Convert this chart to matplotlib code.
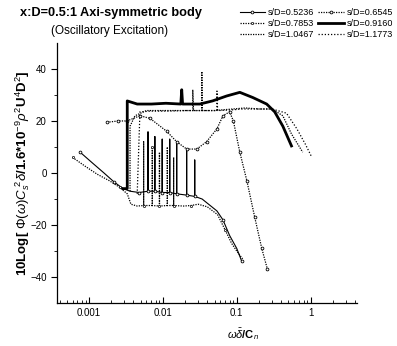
import numpy as np
import matplotlib
matplotlib.use("Agg")
import matplotlib.pyplot as plt
from matplotlib.ticker import FixedLocator, LogLocator, NullFormatter, FuncFormatter

plt.rcParams['font.family'] = ['Liberation Sans', 'DejaVu Sans']
plt.rcParams['mathtext.fontset'] = 'custom'
plt.rcParams['mathtext.rm'] = 'Liberation Sans'
plt.rcParams['mathtext.it'] = 'Liberation Sans:italic'
plt.rcParams['mathtext.bf'] = 'Liberation Sans:bold'

labels = ["s/D=0.5236", "s/D=0.6545", "s/D=0.7853", "s/D=0.9160", "s/D=1.0467", "s/D=1.1773"]

# s/D=0.5236 : low branch with harmonic spikes
x1 = [0.00076, 0.0011, 0.0016, 0.0022, 0.0029, 0.0036, 0.0048, 0.0063, 0.0063, 0.0063,
      0.0078, 0.0078, 0.0078, 0.0098, 0.0098, 0.0098, 0.0124, 0.0124, 0.0124, 0.0154,
      0.0154, 0.0154, 0.021, 0.021, 0.021, 0.027, 0.027, 0.027, 0.034, 0.054, 0.065,
      0.08, 0.1, 0.117]
y1 = [8, 4, 0, -3.5, -6, -7, -7.5, -7, 15.8, -7,
      -7, 14, -7, -7.5, 13, -7.5, -7.5, 13, -7.5, -8,
      12, -8, -8.5, 9, -8.5, -9, 5, -9, -10, -14.6, -18,
      -24, -29, -34]

# s/D=0.6545
x2 = [0.00175, 0.0025, 0.00327, 0.0049, 0.0067, 0.0113, 0.0154, 0.021, 0.0288, 0.039,
      0.054, 0.065, 0.08, 0.09, 0.11, 0.137, 0.175, 0.218, 0.26]
y2 = [19.5, 20, 20, 22, 21, 16, 12, 9.2, 9.2, 12,
      17, 22, 23.5, 20, 8, -3, -17, -29, -37]

# s/D=0.7853
x3 = [0.0006, 0.0009, 0.0013, 0.0019, 0.0026, 0.0033, 0.0037, 0.0045, 0.0055, 0.0055,
      0.0055, 0.0072, 0.0072, 0.0072, 0.009, 0.009, 0.009, 0.0115, 0.0115, 0.0115,
      0.014, 0.014, 0.014, 0.019, 0.024, 0.03, 0.04, 0.055, 0.07, 0.085, 0.1, 0.12]
y3 = [6, 2.5, -0.5, -3, -5.5, -8, -12, -12.7, -12.5, 12,
      -12.5, -12.5, 10, -12.5, -12.7, 8, -12.7, -12.5, 10, -12.5,
      -12.5, 6, -12.5, -12.7, -12.5, -12, -13, -16, -22, -27, -30, -33]

# s/D=0.9160 : upper plateau with bump
x4 = [0.0029, 0.0033, 0.0033, 0.0045, 0.007, 0.011, 0.0175, 0.018, 0.0185, 0.025,
      0.0316, 0.047, 0.073, 0.11, 0.165, 0.254, 0.326, 0.42, 0.55]
y4 = [-6, -6, 27.7, 26.5, 26.5, 26.8, 26.5, 32, 26.5, 26.5,
      26.5, 27.7, 29.6, 31, 29, 26.5, 23.5, 18, 10.4]

# s/D=1.0467
x5 = [0.0036, 0.0036, 0.0042, 0.006, 0.01, 0.015, 0.0254, 0.0254, 0.026, 0.0337,
      0.0337, 0.034, 0.05, 0.08, 0.13, 0.2, 0.3, 0.42, 0.55, 0.78]
y5 = [-7, 18, 22, 24, 24, 24, 24, 32, 24, 24,
      39, 24, 24, 24.5, 25, 24.6, 24.6, 22, 15, 8]

# s/D=1.1773
x6 = [0.0045, 0.0049, 0.007, 0.012, 0.02, 0.035, 0.054, 0.054, 0.055, 0.08,
      0.12, 0.2, 0.3, 0.47, 0.65, 0.85, 1.03]
y6 = [-8, 23.5, 23.8, 23.8, 24, 24, 24, 31.5, 24, 24.2,
      24.6, 24.6, 24.6, 23, 17, 11, 6.2]

xticks = [0.001, 0.01, 0.1, 1]
xtick_labels = ["0.001", "0.01", "0.1", "1"]
yticks = [-40, -20, 0, 20, 40]

fig = plt.figure(figsize=(3.97, 3.46), dpi=100)
ax = fig.add_axes([0.1436, 0.124, 0.755, 0.752])

dot = (0, (1, 1))
lines = []
lines.append(ax.plot(x1, y1, color="black", lw=0.8, ls="-", marker="o", ms=2,
                     mfc="white", mew=0.6, markevery=3, label=labels[0])[0])
lines.append(ax.plot(x2, y2, color="black", lw=0.9, ls=dot, marker="o", ms=2,
                     mfc="white", mew=0.6, label=labels[1])[0])
lines.append(ax.plot(x3, y3, color="black", lw=0.9, ls=dot, marker="o", ms=1.6,
                     mfc="white", mew=0.5, markevery=4, label=labels[2])[0])
lines.append(ax.plot(x4, y4, color="black", lw=2.0, ls="-", label=labels[3])[0])
lines.append(ax.plot(x5, y5, color="black", lw=0.9, ls=dot, label=labels[4])[0])
lines.append(ax.plot(x6, y6, color="black", lw=0.9, ls=(0, (1, 1.5)), label=labels[5])[0])

ax.set_xscale("log")
ax.set_xlim(3.7e-4, 4.2)
ax.set_ylim(-50, 50)

ax.xaxis.set_major_locator(FixedLocator(xticks))
ax.xaxis.set_major_formatter(FuncFormatter(lambda v, p: xtick_labels[xticks.index(v)] if v in xticks else ""))
ax.xaxis.set_minor_locator(LogLocator(base=10, subs=np.arange(2, 10)))
ax.xaxis.set_minor_formatter(NullFormatter())
ax.yaxis.set_major_locator(FixedLocator(yticks))
ax.yaxis.set_minor_locator(FixedLocator([-30, -10, 10, 30]))

ax.tick_params(axis="x", which="major", direction="in", length=4, width=0.8, labelsize=7)
ax.tick_params(axis="x", which="minor", direction="in", length=2, width=0.6)
ax.tick_params(axis="y", which="major", direction="out", length=4, width=0.8, labelsize=7)
ax.tick_params(axis="y", which="minor", direction="out", length=2, width=0.6)

for s in ["top", "right"]:
    ax.spines[s].set_visible(False)
for s in ["left", "bottom"]:
    ax.spines[s].set_linewidth(0.9)

ax.set_ylabel(r"10Log[ $\Phi(\omega)C_s^{\ 2}\delta$/1.6*10$^{-9}$$\rho^2$U$^4$D$^2$]",
              fontsize=9.5, fontweight="bold")
ax.yaxis.set_label_coords(-0.085, 0.5)
ax.set_xlabel(r"$\omega\bar{\delta}$/C$_n$", fontsize=8, fontweight="bold")
ax.xaxis.set_label_coords(0.62, -0.09)

fig.text(0.28, 0.962, "x:D=0.5:1 Axi-symmetric body", fontsize=9.2, fontweight="bold",
         ha="center", va="center")
fig.text(0.277, 0.91, "(Oscillatory Excitation)", fontsize=8.5, ha="center", va="center")

order = [0, 2, 4, 1, 3, 5]
fig.legend([lines[i] for i in order], [labels[i] for i in order], ncol=2,
           loc="upper right", bbox_to_anchor=(1.01, 1.0), frameon=False, fontsize=6.5,
           handlelength=2.8, handletextpad=0.3, columnspacing=0.5, labelspacing=0.2)

fig.savefig("out.png", dpi=100)
